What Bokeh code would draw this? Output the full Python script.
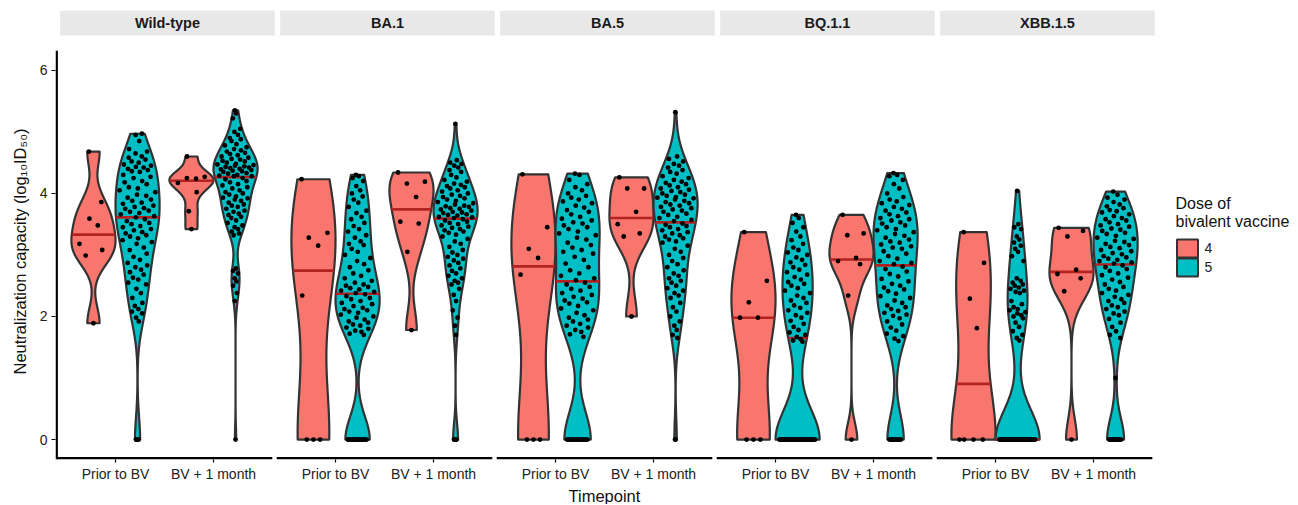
import numpy as np
from bokeh.plotting import figure
from bokeh.models import FixedTicker, Range1d, Title
from bokeh.embed import file_html
from bokeh.resources import INLINE
from bokeh.core.properties import value

# ---------------- data (log10 ID50) ----------------
variants = ["Wild-type", "BA.1", "BA.5", "BQ.1.1", "XBB.1.5"]
timepoints = ["Prior to BV", "BV + 1 month"]
doses = ["4", "5"]
dose_colors = ["#F8766D", "#00BFC4"]

wt_prior_d4 = [4.68, 3.86, 3.59, 3.48, 3.18, 3.08, 2.99, 1.89]
wt_prior_d5 = [4.97, 4.95, 4.85, 4.72,
               4.68, 4.65, 4.6, 4.58, 4.55, 4.52, 4.5, 4.47, 4.45, 4.43, 4.42, 4.4, 4.38, 4.36, 4.35,
               4.3, 4.27, 4.25, 4.2, 4.18, 4.15, 4.1, 4.08, 4.05, 4.02, 3.98, 3.96,
               3.93, 3.9, 3.88, 3.85, 3.83, 3.8, 3.78, 3.76, 3.75, 3.72, 3.7, 3.68, 3.66, 3.63, 3.61,
               3.58, 3.55, 3.52, 3.5, 3.47, 3.45, 3.42, 3.4, 3.37, 3.35, 3.32, 3.3, 3.27, 3.24, 3.21,
               3.18, 3.12, 3.08, 3.02, 2.97, 2.92, 2.87, 2.83,
               2.8, 2.76, 2.72, 2.68, 2.63, 2.6, 2.55, 2.52,
               2.45, 2.38, 2.3, 2.22, 2.17, 2.12, 2.08, 2.05, 1.98, 1.92,
               0, 0, 0, 0]
wt_bv1_d4 = [4.60, 4.27, 4.25, 4.24, 4.17, 4.02, 3.71, 3.42]
wt_bv1_d5 = [5.35, 5.3, 5.22,
             5.05, 5.0, 4.95, 4.9, 4.88, 4.85, 4.8, 4.78, 4.75, 4.72, 4.7, 4.68, 4.66, 4.64, 4.62,
             4.6, 4.58, 4.56, 4.55, 4.53, 4.52, 4.5, 4.48, 4.47, 4.46, 4.45, 4.44, 4.43, 4.42, 4.41,
             4.4, 4.39, 4.38, 4.37, 4.36, 4.35, 4.33, 4.32, 4.3, 4.29, 4.28, 4.28,
             4.25, 4.23, 4.2, 4.18, 4.15, 4.13, 4.1, 4.08, 4.05, 4.02, 4.0, 3.98, 3.95, 3.93, 3.92, 3.9,
             3.88, 3.85, 3.82, 3.8, 3.78, 3.75, 3.72, 3.7, 3.67, 3.65, 3.62, 3.6, 3.56, 3.52,
             3.48, 3.45, 3.42, 3.38, 3.35, 3.32,
             2.78, 2.74, 2.7, 2.62, 2.57, 2.5, 2.38, 2.25,
             0]

ba1_prior_d4 = [4.23, 3.36, 3.28, 3.15, 2.34, 0, 0, 0]
ba1_prior_d5 = [4.3, 4.28, 4.25, 4.2, 4.12, 4.05, 4.0, 3.95, 3.9, 3.85, 3.78, 3.72,
                3.68, 3.62, 3.58, 3.52, 3.47, 3.42, 3.38, 3.32, 3.28, 3.22, 3.18, 3.16,
                3.1, 3.05, 3.0, 2.95, 2.9, 2.85, 2.8, 2.75, 2.7, 2.66, 2.62,
                2.58, 2.55, 2.52, 2.5, 2.48, 2.46, 2.44, 2.42, 2.4, 2.38,
                2.36, 2.33, 2.3, 2.28, 2.25, 2.22, 2.2, 2.17, 2.14, 2.12, 2.1, 2.08, 2.06,
                2.03, 2.0, 1.98, 1.95, 1.92, 1.9, 1.87, 1.85, 1.82, 1.8, 1.77, 1.75, 1.72, 1.7,
                0, 0, 0, 0, 0, 0, 0, 0, 0, 0, 0, 0, 0, 0, 0, 0, 0, 0]
ba1_bv1_d4 = [4.34, 4.19, 4.16, 3.94, 3.54, 3.51, 3.05, 1.78]
ba1_bv1_d5 = [5.13,
              4.54, 4.5, 4.48, 4.45, 4.42, 4.38, 4.35, 4.3, 4.26, 4.22,
              4.19, 4.16, 4.14, 4.12, 4.1, 4.08, 4.05, 4.03, 4.0, 3.98, 3.96, 3.94, 3.92, 3.9,
              3.88, 3.86, 3.84, 3.82, 3.8, 3.79, 3.78, 3.76, 3.75, 3.74, 3.72, 3.7, 3.69, 3.68,
              3.66, 3.65, 3.64, 3.62, 3.61, 3.6,
              3.58, 3.56, 3.54, 3.52, 3.5, 3.48, 3.46, 3.44, 3.42, 3.4, 3.38, 3.36, 3.33, 3.3,
              3.26, 3.22, 3.18, 3.13, 3.08, 3.04, 3.0, 2.97, 2.94, 2.91,
              2.87, 2.83, 2.78, 2.74, 2.7, 2.66, 2.62, 2.58, 2.55, 2.52,
              2.45, 2.35, 2.25, 2.1, 1.98, 1.85, 1.7,
              0, 0, 0, 0]

ba5_prior_d4 = [4.31, 3.45, 3.10, 2.95, 2.68, 0, 0, 0]
ba5_prior_d5 = [4.32, 4.3, 4.22, 4.15, 4.1, 4.05, 4.0, 3.96, 3.93, 3.9,
                3.87, 3.84, 3.8, 3.77, 3.73, 3.7, 3.66, 3.62, 3.59, 3.56, 3.53, 3.51,
                3.48, 3.45, 3.42, 3.38, 3.35, 3.32, 3.28, 3.25, 3.2, 3.16, 3.12, 3.08, 3.05, 3.02,
                2.97, 2.92, 2.86, 2.8, 2.75, 2.7, 2.66, 2.62, 2.59,
                2.55, 2.52, 2.48, 2.45, 2.42, 2.38, 2.35, 2.32, 2.29, 2.26, 2.23, 2.21,
                2.17, 2.13, 2.1, 2.06, 2.02, 1.98, 1.95, 1.92, 1.88, 1.85, 1.82, 1.78, 1.75, 1.71, 1.67,
                0, 0, 0, 0, 0, 0, 0, 0, 0, 0, 0, 0, 0, 0, 0, 0, 0, 0]
ba5_bv1_d4 = [4.26, 4.08, 4.08, 3.70, 3.50, 3.35, 3.30, 2.00]
ba5_bv1_d5 = [5.32,
              4.6, 4.56, 4.52, 4.48, 4.45, 4.42, 4.38, 4.35, 4.32, 4.28, 4.25, 4.22,
              4.19, 4.17, 4.15, 4.13, 4.1, 4.08, 4.06, 4.04, 4.02, 4.0, 3.98, 3.96, 3.94, 3.93, 3.92, 3.9,
              3.88, 3.86, 3.84, 3.82, 3.8, 3.78, 3.76, 3.74, 3.72, 3.7, 3.67, 3.65, 3.62, 3.6, 3.57, 3.55,
              3.51, 3.49, 3.47, 3.45, 3.42, 3.4, 3.37, 3.35, 3.32, 3.3, 3.27, 3.25, 3.22, 3.2,
              3.15, 3.1, 3.05, 3.0, 2.95, 2.9, 2.85, 2.8,
              2.75, 2.7, 2.66, 2.62, 2.58, 2.55, 2.5, 2.46, 2.42, 2.38, 2.34, 2.3,
              2.22, 2.15, 2.08, 2.0, 1.92, 1.85, 1.78, 1.7, 1.65,
              0, 0]

bq11_prior_d4 = [3.37, 2.58, 2.23, 1.98, 1.98, 0, 0, 0]
bq11_prior_d5 = [3.65, 3.6, 3.52, 3.45, 3.38, 3.3, 3.24, 3.18, 3.12, 3.08, 3.04, 3.0,
                 2.96, 2.92, 2.88, 2.84, 2.8, 2.76, 2.72, 2.68, 2.64, 2.6, 2.56, 2.53, 2.5,
                 2.46, 2.42, 2.38, 2.34, 2.3, 2.26, 2.22, 2.18, 2.14, 2.1, 2.06, 2.02,
                 1.98, 1.93, 1.88, 1.83, 1.78, 1.74, 1.7, 1.67,
                 1.63, 1.61, 1.59,
                 0, 0, 0, 0, 0, 0, 0, 0, 0, 0, 0, 0, 0, 0, 0, 0, 0, 0, 0, 0, 0,
                 0, 0, 0, 0, 0, 0, 0, 0, 0, 0, 0, 0, 0, 0, 0, 0, 0, 0, 0, 0, 0]
bq11_bv1_d4 = [3.65, 3.35, 3.32, 2.95, 2.90, 2.85, 2.34, 0]
bq11_bv1_d5 = [4.33, 4.3, 4.28, 4.22, 4.15, 4.08, 4.0, 3.94,
               3.9, 3.87, 3.84, 3.81, 3.78, 3.75, 3.72, 3.69, 3.66, 3.63, 3.6, 3.58, 3.56, 3.53, 3.51,
               3.48, 3.45, 3.42, 3.4, 3.37, 3.34, 3.31, 3.28, 3.25, 3.22, 3.2, 3.17, 3.14, 3.12, 3.1,
               3.06, 3.02, 2.98, 2.94, 2.9, 2.87, 2.85,
               2.81, 2.77, 2.73, 2.69, 2.65, 2.61, 2.57, 2.53, 2.5, 2.47, 2.44, 2.41,
               2.37, 2.33, 2.3, 2.26, 2.22, 2.18, 2.15, 2.12, 2.09, 2.06, 2.03, 2.01,
               1.97, 1.92, 1.87, 1.82, 1.77, 1.72, 1.68, 1.64, 1.6,
               0, 0, 0, 0, 0, 0, 0, 0, 0, 0, 0, 0]

xbb_prior_d4 = [3.37, 2.87, 2.29, 1.81, 0, 0, 0, 0]
xbb_prior_d5 = [4.04, 3.5, 3.45, 3.42,
                3.3, 3.25, 3.2, 3.15, 3.1, 3.05, 2.98, 2.9,
                2.62, 2.58, 2.55, 2.52, 2.5, 2.47, 2.45, 2.42, 2.4, 2.38,
                2.25, 2.2, 2.15, 2.12, 2.1, 2.07, 2.05, 2.02, 2.0, 1.97,
                1.9, 1.83, 1.76, 1.7, 1.65, 1.61,
                0, 0, 0, 0, 0, 0, 0, 0, 0, 0, 0, 0, 0,
                0, 0, 0, 0, 0, 0, 0, 0, 0, 0, 0, 0, 0,
                0, 0, 0, 0, 0, 0, 0, 0, 0, 0, 0, 0, 0,
                0, 0, 0, 0, 0, 0, 0, 0, 0, 0, 0, 0, 0]
xbb_bv1_d4 = [3.44, 3.39, 3.30, 2.76, 2.69, 2.62, 2.41, 0]
xbb_bv1_d5 = [4.03, 3.98, 3.93, 3.9, 3.86, 3.82, 3.79, 3.76, 3.73, 3.71,
              3.69, 3.66, 3.63, 3.6, 3.58, 3.56, 3.53, 3.5, 3.48, 3.46, 3.43, 3.41, 3.39, 3.36, 3.34, 3.31,
              3.28, 3.26, 3.23, 3.21, 3.18, 3.16, 3.13, 3.11, 3.08, 3.06, 3.03, 3.01, 2.98, 2.96,
              2.94, 2.92, 2.9, 2.88, 2.86,
              2.83, 2.8, 2.77, 2.74, 2.7, 2.67, 2.63, 2.6, 2.56, 2.52, 2.48, 2.45, 2.42,
              2.38, 2.35, 2.32, 2.28, 2.25, 2.22, 2.18, 2.15, 2.12, 2.08, 2.05, 2.02,
              1.96, 1.9, 1.83, 1.76, 1.7, 1.65,
              1.0,
              0, 0, 0, 0, 0, 0, 0, 0, 0, 0, 0, 0, 0]

groups = {
    ("Wild-type", "Prior to BV", "4"): wt_prior_d4, ("Wild-type", "Prior to BV", "5"): wt_prior_d5,
    ("Wild-type", "BV + 1 month", "4"): wt_bv1_d4, ("Wild-type", "BV + 1 month", "5"): wt_bv1_d5,
    ("BA.1", "Prior to BV", "4"): ba1_prior_d4, ("BA.1", "Prior to BV", "5"): ba1_prior_d5,
    ("BA.1", "BV + 1 month", "4"): ba1_bv1_d4, ("BA.1", "BV + 1 month", "5"): ba1_bv1_d5,
    ("BA.5", "Prior to BV", "4"): ba5_prior_d4, ("BA.5", "Prior to BV", "5"): ba5_prior_d5,
    ("BA.5", "BV + 1 month", "4"): ba5_bv1_d4, ("BA.5", "BV + 1 month", "5"): ba5_bv1_d5,
    ("BQ.1.1", "Prior to BV", "4"): bq11_prior_d4, ("BQ.1.1", "Prior to BV", "5"): bq11_prior_d5,
    ("BQ.1.1", "BV + 1 month", "4"): bq11_bv1_d4, ("BQ.1.1", "BV + 1 month", "5"): bq11_bv1_d5,
    ("XBB.1.5", "Prior to BV", "4"): xbb_prior_d4, ("XBB.1.5", "Prior to BV", "5"): xbb_prior_d5,
    ("XBB.1.5", "BV + 1 month", "4"): xbb_bv1_d4, ("XBB.1.5", "BV + 1 month", "5"): xbb_bv1_d5,
}

# ---------------- layout helpers (canvas pixel -> data units) ----------------
FRAME_L, FRAME_R, FRAME_T, FRAME_B = 55, 1290, 10, 460
W, H = 1298, 504
PXX = 98.0          # px per x unit
Y_LO = -(FRAME_B - 440) / 61.67
Y_HI = (440 - FRAME_T) / 61.67
PXY = (FRAME_B - FRAME_T) / (Y_HI - Y_LO)
STRIDE = 2.245      # facet stride in x units
HALF = 0.225        # half of the dodged violin width


def px2x(px):
    return 1 + (px - 115) / PXX


def px2y(py):
    return Y_HI - (py - FRAME_T) / PXY


def vdc(n, base=2):
    v, denom = 0.0, 1.0
    while n:
        denom *= base
        n, rem = divmod(n, base)
        v += rem / denom
    return v


def violin(vals):
    d = np.asarray(vals, float)
    n = len(d)
    sd = d.std(ddof=1)
    q75, q25 = np.percentile(d, [75, 25])
    lo = min(sd, (q75 - q25) / 1.34)
    if lo <= 0:
        lo = sd if sd > 0 else 1.0
    bw = 0.9 * lo * n ** -0.2
    grid = np.linspace(d.min(), d.max(), 512)
    dens = np.exp(-0.5 * ((grid[:, None] - d[None, :]) / bw) ** 2).sum(1) / (n * bw * np.sqrt(2 * np.pi))
    hw = HALF * dens / dens.max()
    return grid, hw


p = figure(width=W, height=H, output_backend="svg", toolbar_location=None,
           x_range=Range1d(px2x(FRAME_L), px2x(FRAME_R)), y_range=Range1d(Y_LO, Y_HI),
           min_border_left=FRAME_L, min_border_right=W - FRAME_R,
           min_border_top=FRAME_T, min_border_bottom=H - FRAME_B)
p.outline_line_color = None
p.xgrid.grid_line_color = None
p.ygrid.grid_line_color = None
p.background_fill_color = "white"

FONT = "Liberation Sans"
n_fac = len(variants)

# strips
strip_l, strip_r, tick_pos, tick_lab = [], [], [], []
for i, v in enumerate(variants):
    off = i * STRIDE
    strip_l.append(off + 0.4 + 0.035)
    strip_r.append(off + 2.6 + 0.025)
    for j, t in enumerate(timepoints):
        tick_pos.append(off + 1 + j)
        tick_lab.append(t)
p.quad(left=strip_l, right=strip_r, bottom=px2y(35), top=px2y(10), fill_color="#E8E8E8", line_color=None)
p.text(x=[(a + b) / 2 for a, b in zip(strip_l, strip_r)], y=[px2y(23)] * n_fac, text=variants,
       text_font=value(FONT), text_font_style="bold", text_font_size="14.5px", text_color="#1A1A1A",
       text_align="center", text_baseline="middle")

# violins, medians, points
pxs, pys, pcol, mx0, mx1, my, dx, dy = [], [], [], [], [], [], [], []
for i, v in enumerate(variants):
    for j, t in enumerate(timepoints):
        for k, dose in enumerate(doses):
            vals = groups[(v, t, dose)]
            cx = 1 + i * STRIDE + j + (-HALF if k == 0 else HALF)
            g, hw = violin(vals)
            pxs.append(list(np.concatenate([cx - hw, (cx + hw)[::-1]])))
            pys.append(list(np.concatenate([g, g[::-1]])))
            pcol.append(dose_colors[k])
            m = float(np.median(vals))
            hm = float(np.interp(m, g, hw))
            mx0.append(cx - hm)
            mx1.append(cx + hm)
            my.append(m)
            order = np.argsort(np.asarray(vals, float), kind="stable")
            for r, idx in enumerate(order):
                yv = float(vals[idx])
                w = float(np.interp(yv, g, hw))
                dx.append(cx + (2 * vdc(r + 1) - 1) * w * 0.85)
                dy.append(yv)

p.patches(xs=pxs, ys=pys, fill_color=pcol, line_color="#333333", line_width=2.2, line_join="round")
p.segment(x0=mx0, y0=my, x1=mx1, y1=my, line_color="#B22222", line_width=2.6)
p.scatter(x=dx, y=dy, size=4.8, fill_color="black", line_color=None)

# axis lines drawn per facet
yb = px2y(458.7)
p.segment(x0=[0.4], y0=[yb], x1=[0.4], y1=[6.3], line_color="black", line_width=2.4, line_cap="square")
p.segment(x0=[i * STRIDE + 0.4 for i in range(n_fac)], y0=[yb] * n_fac,
          x1=[i * STRIDE + 2.6 for i in range(n_fac)], y1=[yb] * n_fac,
          line_color="black", line_width=2.4)

# axes
p.yaxis.ticker = FixedTicker(ticks=[0, 2, 4, 6])
p.yaxis.axis_line_color = None
p.yaxis.minor_tick_line_color = None
p.yaxis.major_tick_out = 4
p.yaxis.major_tick_in = 0
p.yaxis.major_tick_line_width = 1.2
p.yaxis.major_label_standoff = 4
p.yaxis.major_label_text_font = FONT
p.yaxis.major_label_text_font_size = "14px"
p.yaxis.major_label_text_color = "#222222"

p.xaxis.ticker = FixedTicker(ticks=tick_pos)
p.xaxis.major_label_overrides = {tp: lab for tp, lab in zip(tick_pos, tick_lab)}
p.xaxis.axis_line_color = None
p.xaxis.minor_tick_line_color = None
p.xaxis.major_tick_out = 3
p.xaxis.major_tick_in = 0
p.xaxis.major_tick_line_width = 1.2
p.xaxis.major_label_standoff = 3
p.xaxis.major_label_text_font = FONT
p.xaxis.major_label_text_font_size = "14px"
p.xaxis.major_label_text_color = "#222222"

# axis titles as side titles, offset so they sit centred on the facet panels
ytitle = Title(text="Neutralization capacity (log\u2081\u2080ID\u2085\u2080)", align="left",
               offset=FRAME_B - 375, standoff=16, text_font=FONT, text_font_size="16.5px",
               text_font_style="normal", text_color="#111111")
p.add_layout(ytitle, "left")
xtitle = Title(text="Timepoint", align="left", offset=568 - FRAME_L, standoff=0,
               text_font=FONT, text_font_size="16.5px", text_font_style="normal", text_color="#111111")
p.add_layout(xtitle, "below")

# legend (drawn in the right-hand part of the frame)
p.text(x=[px2x(1175)] * 2, y=[px2y(203), px2y(221)], text=["Dose of", "bivalent vaccine"],
       text_font=value(FONT), text_font_size="16px", text_color="#111111",
       text_align="left", text_baseline="middle")
key_y = [px2y(248.5), px2y(267.5)]
p.rect(x=[px2x(1187)] * 2, y=key_y, width=21 / PXX, height=18 / PXY, fill_color=dose_colors,
       line_color="#333333", line_width=2.0)
p.text(x=[px2x(1204)] * 2, y=key_y, text=doses, text_font=value(FONT), text_font_size="14px",
       text_color="#222222", text_align="left", text_baseline="middle")

open("out.html", "w").write(file_html(p, INLINE))
